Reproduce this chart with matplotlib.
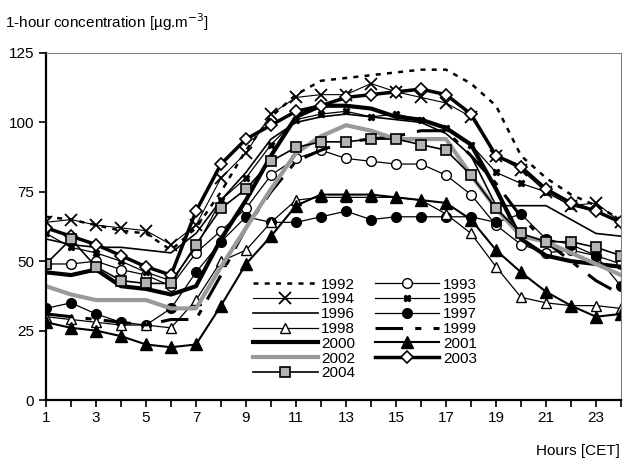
import numpy as np
import matplotlib
matplotlib.use("Agg")
import matplotlib.pyplot as plt

plt.rcParams['font.family'] = ['Liberation Sans', 'DejaVu Sans']

hours = list(range(1, 25))
x_ticklabels = [str(h) if h % 2 == 1 else "" for h in hours]

# hourly mean 1-hour concentrations
y1992 = [66, 65, 63, 61, 60, 54, 62, 75, 90, 102, 110, 115, 116, 117, 118, 119, 119, 114, 106, 88, 80, 74, 70, 65]
y1993 = [49, 49, 50, 47, 45, 41, 53, 61, 69, 81, 87, 90, 87, 86, 85, 85, 81, 74, 63, 56, 53, 54, 52, 49]
y1994 = [64, 65, 63, 62, 61, 56, 63, 80, 89, 103, 109, 110, 110, 114, 111, 109, 107, 102, 88, 83, 75, 70, 71, 64]
y1995 = [60, 55, 53, 50, 46, 43, 55, 72, 80, 92, 101, 103, 104, 102, 103, 101, 98, 92, 82, 78, 75, 70, 68, 64]
y1996 = [58, 56, 55, 55, 54, 53, 60, 72, 82, 94, 100, 102, 103, 102, 101, 100, 96, 88, 70, 70, 70, 65, 60, 59]
y1997 = [33, 35, 31, 28, 27, 33, 46, 57, 66, 64, 64, 66, 68, 65, 66, 66, 66, 66, 64, 67, 58, 56, 52, 41]
y1998 = [30, 29, 28, 27, 27, 26, 36, 50, 54, 64, 72, 73, 73, 73, 73, 72, 67, 60, 48, 37, 35, 34, 34, 33]
y1999 = [31, 30, 29, 28, 27, 29, 29, 45, 62, 75, 86, 90, 93, 94, 95, 97, 97, 88, 78, 66, 57, 50, 43, 38]
y2000 = [46, 45, 47, 41, 40, 38, 41, 58, 72, 88, 102, 106, 106, 105, 102, 101, 98, 92, 76, 58, 52, 50, 49, 48]
y2001 = [28, 26, 25, 23, 20, 19, 20, 34, 49, 59, 70, 74, 74, 74, 73, 72, 71, 65, 54, 46, 39, 34, 30, 31]
y2002 = [41, 38, 36, 36, 36, 33, 33, 48, 62, 76, 89, 95, 99, 97, 94, 94, 94, 81, 69, 59, 57, 53, 49, 45]
y2003 = [62, 59, 56, 52, 48, 45, 68, 85, 94, 99, 104, 106, 109, 110, 111, 112, 110, 103, 88, 84, 76, 71, 68, 64]
y2004 = [49, 58, 48, 43, 42, 42, 56, 69, 76, 86, 91, 93, 93, 94, 94, 92, 90, 81, 69, 60, 57, 57, 55, 52]

fig = plt.figure(figsize=(6.27, 4.62), dpi=100)
ax = fig.add_axes([46/627, 1 - 400/462, 575/627, 347/462])

k = dict(color='black')
ax.plot(hours, y1992, lw=1.8, dashes=(2, 2.5), label='1992', **k)
ax.plot(hours, y1993, lw=0.9, marker='o', ms=7, mfc='white', mec='black', label='1993', **k)
ax.plot(hours, y1994, lw=0.8, marker='x', ms=8, mew=1.3, label='1994', **k)
ax.plot(hours, y1995, lw=0.9, marker='X', ms=4.5, label='1995', **k)
ax.plot(hours, y1996, lw=1.2, label='1996', **k)
ax.plot(hours, y1997, lw=0.9, marker='o', ms=7, label='1997', **k)
ax.plot(hours, y1998, lw=0.9, marker='^', ms=7, mfc='white', mec='black', label='1998', **k)
ax.plot(hours, y1999, lw=2.2, dashes=(9, 4, 2, 4), label='1999', **k)
ax.plot(hours, y2000, lw=3.0, label='2000', **k)
ax.plot(hours, y2001, lw=1.5, marker='^', ms=8, label='2001', **k)
ax.plot(hours, y2002, lw=3.0, color='#9a9a9a', label='2002')
ax.plot(hours, y2003, lw=2.5, marker='D', ms=6, mfc='white', mec='black', mew=1.2, label='2003', **k)
ax.plot(hours, y2004, lw=1.2, marker='s', ms=7, mfc='#b4b4b4', mec='black', mew=1.2, label='2004', **k)

ax.set_xlim(1, 24)
ax.set_ylim(0, 125)
ax.set_yticks([0, 25, 50, 75, 100, 125])
ax.set_xticks(hours)
ax.set_xticklabels(x_ticklabels)
ax.tick_params(axis='both', direction='out', length=5, width=1.2, labelsize=11)
ax.tick_params(axis='x', pad=3)
for s in ['left', 'bottom']:
    ax.spines[s].set_linewidth(1.6)
for s in ['top', 'right']:
    ax.spines[s].set_linewidth(0.8)
    ax.spines[s].set_color('#808080')

handles, labels = ax.get_legend_handles_labels()
order = [0, 2, 4, 6, 8, 10, 12, 1, 3, 5, 7, 9, 11]
ax.legend([handles[i] for i in order], [labels[i] for i in order], ncol=2,
          frameon=False, fontsize=11, handlelength=4.2, handletextpad=0.25,
          labelspacing=0.05, columnspacing=1.3, loc='upper left',
          bbox_to_anchor=(0.35, 0.37), borderaxespad=0)

fig.text(5/627, 1 - 22/462, '1-hour concentration [µg.m$^{-3}$]', fontsize=11, va='center')
fig.text(620/627, 1 - 451/462, 'Hours [CET]', fontsize=11, ha='right', va='center')

fig.savefig('out.png', dpi=100)
